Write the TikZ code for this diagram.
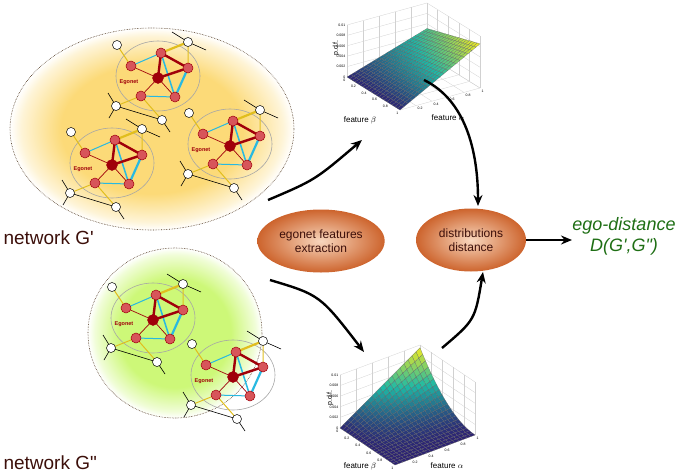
\documentclass[tikz,border=0pt]{standalone}
\usepackage{fontspec}
\setmainfont{Liberation Sans}
\newfontfamily\plainf{Liberation Sans}
\usetikzlibrary{arrows.meta,shapes.geometric}
\definecolor{ered}{RGB}{215,85,90}
\definecolor{edark}{RGB}{160,0,10}
\definecolor{ecyan}{RGB}{40,185,225}
\definecolor{eyel}{RGB}{225,190,30}
\definecolor{ovalin}{RGB}{248,215,190}
\definecolor{ovalout}{RGB}{205,100,45}
\definecolor{txtdark}{RGB}{60,15,10}
\definecolor{egreen}{RGB}{30,110,20}
\definecolor{bgyel}{RGB}{252,218,120}
\definecolor{bggrn}{RGB}{205,248,120}
\pgfdeclareradialshading{yelfade}{\pgfpoint{0bp}{0bp}}{color(0bp)=(bgyel); color(16bp)=(bgyel); color(23bp)=(bgyel!30); color(25bp)=(white); color(50bp)=(white)}
\pgfdeclareradialshading{grnfade}{\pgfpoint{0bp}{0bp}}{color(0bp)=(bggrn); color(16bp)=(bggrn); color(23bp)=(bggrn!30); color(25bp)=(white); color(50bp)=(white)}
\tikzset{
  rednd/.style={circle,fill=ered,draw=edark,line width=0.5pt,inner sep=0pt,minimum size=10pt},
  cennd/.style={circle,fill=edark,draw=edark,inner sep=0pt,minimum size=11pt},
  whnd/.style={circle,fill=white,draw=black,line width=0.5pt,inner sep=0pt,minimum size=9pt},
  oval/.style={ellipse,inner color=ovalin,outer color=ovalout,minimum width=110pt,minimum height=63pt,align=center,font=\fontsize{12}{14}\selectfont,text=txtdark},
  bigarrow/.style={-{Stealth[length=11pt,width=9pt]},line width=2.4pt},
  gridl/.style={draw=black!18,line width=0.3pt},
  tick/.style={font=\fontsize{3.5}{4}\selectfont,inner sep=0.5pt},
  bgell/.style={draw=black!60!brown,line width=0.6pt,densely dotted},
  declare function={ftop(\a,\b)=0.85*\a*(0.6+0.4*\b); fbot(\a,\b)=0.95*\a*(1-\b)*(1-\b);}
}
\newcommand\egonet[2]{%
\begin{scope}[shift={(#1,#2)}]
 \draw[gray!70,line width=0.6pt] (0,-2) ellipse [x radius=42,y radius=35];
 \coordinate (C) at (0,0); \coordinate (T) at (3,-25); \coordinate (R) at (30,-10);
 \coordinate (BR) at (17,19); \coordinate (BL) at (-17,18); \coordinate (L) at (-27,-12);
 \coordinate (W1) at (-41,-33); \coordinate (W2) at (30,-36); \coordinate (W3) at (-42,28); \coordinate (W4) at (4,42);
 \draw[black,line width=0.6pt] (W2)--+(-16,-10) (W2)--+(18,8) (W3)--+(-8,-13) (W3)--+(-7,12) (W3)--(W4) (W4)--+(8,12);
 \draw[eyel,line width=1pt] (L)--(W1) (BL)--(W3) (BL)--(W4) (W2)--(R);
 \draw[eyel,line width=2.2pt] (T)--(W2);
 \draw[ecyan,line width=1pt] (L)--(T) (BL)--(BR);
 \draw[ecyan,line width=1.5pt] (T)--(BR);
 \draw[ecyan,line width=2.2pt] (R)--(BR);
 \draw[edark,line width=0.7pt] (C)--(L) (C)--(BL) (C)--(BR);
 \draw[edark,line width=2.4pt] (C)--(T) (C)--(R) (T)--(R);
 \foreach \p in {T,R,BR,BL,L} \node[rednd] (n\p) at (\p) {};
 \node[cennd] (nC) at (C) {};
 \foreach \p in {W1,W2,W3,W4} \node[whnd] (n\p) at (\p) {};
 \node[text=edark,font=\bfseries\fontsize{5.5}{6}\selectfont] (lab) at (-29,4) {Egonet};
\end{scope}}
\newcommand\setqc[1]{%
   \pgfmathsetmacro\tt{min(1,max(0,#1))}%
   \pgfmathsetmacro\cr{\tt<0.5?45-30*\tt:30+215*(2*\tt-1)}%
   \pgfmathsetmacro\cg{\tt<0.5?35+300*\tt:185+50*(2*\tt-1)}%
   \pgfmathsetmacro\cb{\tt<0.5?115+100*\tt:165-135*(2*\tt-1)}%
   \definecolor{qc}{RGB}{\cr,\cg,\cb}}
\newcommand\surfplot[9]{%
\begin{scope}
 \foreach \k in {0,0.2,...,1.01}{
   \draw[gridl] ({#2+\k*#4},{#3+\k*#5}) -- ++(0,{-#8});
   \draw[gridl] ({#2},{#3-\k*#8}) -- ++({#4},{#5});
   \draw[gridl] ({#2+#4+\k*#6},{#3+#5+\k*#7}) -- ++(0,{-#8});
   \draw[gridl] ({#2+#4},{#3+#5-\k*#8}) -- ++({#6},{#7});
   \draw[gridl] ({#2+\k*#4},{#3+\k*#5}) -- ++({#6},{#7});
   \draw[gridl] ({#2+\k*#6},{#3+\k*#7}) -- ++({#4},{#5});
 }
 \foreach \i in {0,...,19}{
  \foreach \j in {19,18,...,0}{
   \pgfmathsetmacro\aa{\j/20}\pgfmathsetmacro\ab{(\j+1)/20}
   \pgfmathsetmacro\ba{\i/20}\pgfmathsetmacro\bb{(\i+1)/20}
   \pgfmathsetmacro\fa{#1(\aa,\ba)}\pgfmathsetmacro\fb{#1(\ab,\ba)}
   \pgfmathsetmacro\fc{#1(\ab,\bb)}\pgfmathsetmacro\fd{#1(\aa,\bb)}
   \setqc{(\fa+\fb+\fc+\fd)/4/#9}
   \filldraw[fill=qc,draw=black!60,line width=0.15pt]
     ({#2+\aa*#4+\ba*#6},{#3+\aa*#5+\ba*#7-#8*\fa}) --
     ({#2+\ab*#4+\ba*#6},{#3+\ab*#5+\ba*#7-#8*\fb}) --
     ({#2+\ab*#4+\bb*#6},{#3+\ab*#5+\bb*#7-#8*\fc}) --
     ({#2+\aa*#4+\bb*#6},{#3+\aa*#5+\bb*#7-#8*\fd}) -- cycle;
  }}
 \foreach \k/\t in {0/0,0.2/0.002,0.4/0.004,0.6/0.006,0.8/0.008,1/0.01}
   \node[tick,anchor=east] at ({#2-1},{#3-\k*#8}) {\t};
 \foreach \k in {0,0.2,0.4,0.6,0.8,1}
   \node[tick,anchor=north east] at ({#2+\k*#6-1},{#3+\k*#7+1}) {\k};
 \foreach \k in {0.2,0.4,0.6,0.8,1}
   \node[tick,anchor=north west] at ({#2+#6+\k*#4+1},{#3+#7+\k*#5+1}) {\k};
\end{scope}}
\begin{document}
\begin{tikzpicture}[x=1pt,y=-1pt]
\useasboundingbox (0,0) rectangle (685,474);
\shade[shading=yelfade] (152,129) ellipse [x radius=142,y radius=101];
\draw[bgell] (152,129) ellipse [x radius=142,y radius=101];
\egonet{158}{78}\egonet{112}{165}\egonet{230}{146}
\node[anchor=west,font=\plainf\fontsize{19}{22}\selectfont,text=txtdark] (g1) at (0,238) {network G'};
\shade[shading=grnfade] (175,333) ellipse [x radius=87,y radius=85];
\draw[bgell] (175,333) ellipse [x radius=87,y radius=85];
\egonet{153}{320}\egonet{233}{377}
\node[anchor=west,font=\plainf\fontsize{19}{22}\selectfont,text=txtdark] (g2) at (0,463) {network G"};
\node[oval] (ext) at (321,241) {egonet features\\extraction};
\node[oval] (dist) at (471,240) {distributions\\distance};
\node[font=\plainf\itshape\fontsize{18}{21}\selectfont,text=egreen,align=center] (ego) at (624,236) {ego-distance\\D(G',G")};
\surfplot{ftop}{347}{77}{80}{-22}{53}{33}{52}{0.85}
\node[font=\fontsize{7}{8}\selectfont,rotate=90] (pdf1) at (336,48) {p.d.f.};
\node[font=\fontsize{8}{9}\selectfont] (fb1) at (360,120) {feature $\beta$};
\node[font=\fontsize{8}{9}\selectfont] (fa1) at (448,118) {feature $\alpha$};
\surfplot{fbot}{340}{428}{80}{-30}{55}{37}{53}{0.95}
\node[font=\fontsize{7}{8}\selectfont,rotate=90] (pdf2) at (330,398) {p.d.f.};
\node[font=\fontsize{8}{9}\selectfont] (fb2) at (360,466) {feature $\beta$};
\node[font=\fontsize{8}{9}\selectfont] (fa2) at (447,466) {feature $\alpha$};
\coordinate (a1s) at (268,200); \coordinate (a1e) at (362,140);
\coordinate (a2s) at (424,80); \coordinate (a2e) at (478,206);
\coordinate (a3s) at (270,280); \coordinate (a3e) at (364,352);
\coordinate (a4s) at (442,348); \coordinate (a4e) at (483,272);
\draw[bigarrow] (a1s) .. controls (315,180) .. (a1e);
\draw[bigarrow] (a2s) .. controls (465,100) and (478,150) .. (a2e);
\draw[bigarrow] (a3s) .. controls (320,295) .. (a3e);
\draw[bigarrow] (a4s) .. controls (475,320) .. (a4e);
\draw[bigarrow] (dist.east) -- (572,240);
\end{tikzpicture}
\end{document}
